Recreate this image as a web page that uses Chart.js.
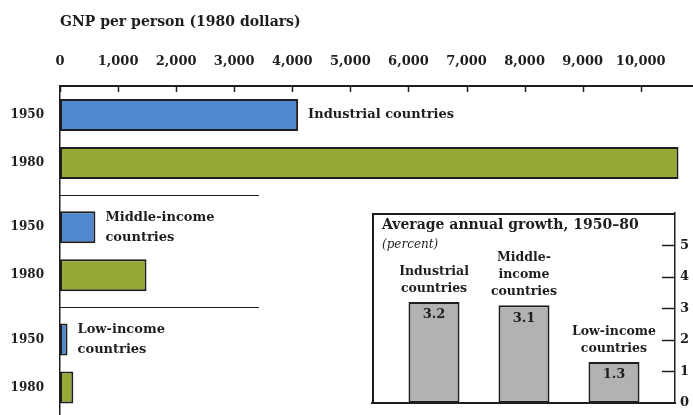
<!DOCTYPE html>
<html><head><meta charset="utf-8">
<script src="https://cdn.jsdelivr.net/npm/chart.js@4/dist/chart.umd.min.js"></script>
<style>
html,body{margin:0;padding:0;background:#fff;}
#wrap{position:relative;width:693px;height:415px;overflow:hidden;background:#fff;}
#main{position:absolute;left:0;top:0;}
#inset{position:absolute;left:371px;top:212px;}
</style></head><body>
<div id="wrap">
<canvas id="main" width="693" height="415"></canvas>
<canvas id="inset" width="322" height="203"></canvas>
</div>
<script>
// ---- data ----
const groups = ['Industrial countries', 'Middle-income countries', 'Low-income countries'];
const groupLabelLines = [['Industrial countries'], ['Middle-income', 'countries'], ['Low-income', 'countries']];
const years = ['1950', '1980'];
const gnp1950 = [4100, 610, 130];
const gnp1980 = [10650, 1490, 230];
const gnpTicks = [0, 1000, 2000, 3000, 4000, 5000, 6000, 7000, 8000, 9000, 10000];
const gnpTitle = 'GNP per person (1980 dollars)';

const growthLabels = [['Industrial', 'countries'], ['Middle-', 'income', 'countries'], ['Low-income', 'countries']];
const growthValues = [3.2, 3.1, 1.3];
const growthTicks = [0, 1, 2, 3, 4, 5];
const growthTitle = 'Average annual growth, 1950\u201380';
const growthUnit = '(percent)';

// ---- styles ----
const SERIF = "'DejaVu Serif', serif";
const INK = '#1e1e1e';
const BLUE = '#4f88cf';
const GREEN = '#97a935';
const GRAY = '#b2b2b2';

function noPad(s) { s.paddingTop = 0; s.paddingBottom = 0; s.paddingLeft = 0; s.paddingRight = 0; }

const mainDecor = {
  id: 'mainDecor',
  afterDatasetsDraw(chart) {
    const ctx = chart.ctx, ca = chart.chartArea;
    const xs = chart.scales.x, ys = chart.scales.y;
    ctx.save();
    ctx.strokeStyle = INK;
    ctx.lineWidth = 1.5;
    // tick marks pointing down from top axis
    xs.ticks.forEach(t => {
      const px = Math.round(xs.getPixelForValue(t.value)) + 0.5;
      ctx.beginPath(); ctx.moveTo(px, ca.top); ctx.lineTo(px, ca.top + 6); ctx.stroke();
    });
    // separators between groups
    ctx.lineWidth = 1;
    for (let i = 0; i < groups.length - 1; i++) {
      const py = Math.round(ys.getPixelForValue(i + 0.5)) + 0.5;
      ctx.beginPath(); ctx.moveTo(ca.left, py); ctx.lineTo(ca.left + 199, py); ctx.stroke();
    }
    // group labels beside 1950 bars
    const meta = chart.getDatasetMeta(0);
    ctx.fillStyle = INK;
    ctx.font = "bold 13px " + SERIF;
    ctx.textAlign = 'left'; ctx.textBaseline = 'middle';
    meta.data.forEach((el, i) => {
      const lines = groupLabelLines[i];
      const lh = 20;
      const y0 = el.y - (lines.length - 1) * lh / 2;
      lines.forEach((l, k) => ctx.fillText(l, el.x + 10, y0 + k * lh));
    });
    ctx.restore();
  }
};

new Chart(document.getElementById('main'), {
  type: 'bar',
  data: {
    datasets: [
      { label: years[0], data: gnp1950.map((v, i) => ({ x: v, y: i })), backgroundColor: BLUE, borderColor: INK, borderWidth: 2, borderSkipped: false },
      { label: years[1], data: gnp1980.map((v, i) => ({ x: v, y: i })), backgroundColor: GREEN, borderColor: INK, borderWidth: 2, borderSkipped: false }
    ]
  },
  options: {
    indexAxis: 'y',
    responsive: false,
    animation: false,
    devicePixelRatio: 1,
    categoryPercentage: 0.853,
    barPercentage: 0.667,
    layout: { padding: 0 },
    plugins: { legend: { display: false }, tooltip: { enabled: false } },
    scales: {
      x: {
        type: 'linear', position: 'top', min: 0, max: 10900, offset: false,
        afterBuildTicks: s => { s.ticks = gnpTicks.map(v => ({ value: v })); },
        afterFit: s => { s.height = 86; noPad(s); },
        grid: { display: false, drawTicks: false },
        border: { display: true, width: 2, color: INK },
        ticks: { padding: 17, color: INK, maxRotation: 0, autoSkip: false,
          font: { family: SERIF, size: 13, weight: 'bold' },
          callback: v => v.toLocaleString('en-US') },
        title: { display: true, text: gnpTitle, align: 'start', color: INK,
          padding: { top: 14, bottom: 0 },
          font: { family: SERIF, size: 14, weight: 'bold' } }
      },
      y: {
        type: 'linear', reverse: true, min: -0.472, max: 2.459, offset: false,
        afterBuildTicks: s => { s.ticks = groups.map((g, i) => ({ value: i })); },
        afterFit: s => { s.width = 60; noPad(s); },
        grid: { display: false, drawTicks: false },
        border: { display: true, width: 1.5, color: INK },
        ticks: { padding: 16, color: INK, autoSkip: false,
          font: { family: SERIF, size: 12, weight: 'bold', lineHeight: '48px' },
          callback: () => years }
      }
    }
  },
  plugins: [mainDecor]
});

const insetDecor = {
  id: 'insetDecor',
  afterDatasetsDraw(chart) {
    const ctx = chart.ctx, ca = chart.chartArea;
    const ys = chart.scales.y;
    ctx.save();
    ctx.strokeStyle = INK;
    // left and top frame
    ctx.lineWidth = 2;
    ctx.beginPath();
    ctx.moveTo(ca.left + 1, ca.bottom); ctx.lineTo(ca.left + 1, ca.top + 1); ctx.lineTo(ca.right, ca.top + 1);
    ctx.stroke();
    // inward ticks on right axis
    ctx.lineWidth = 1.5;
    ys.ticks.forEach(t => {
      if (t.value === 0) return;
      const py = Math.round(ys.getPixelForValue(t.value)) + 0.5;
      ctx.beginPath(); ctx.moveTo(ca.right - 13, py); ctx.lineTo(ca.right, py); ctx.stroke();
    });
    // titles
    ctx.fillStyle = INK;
    ctx.textAlign = 'left'; ctx.textBaseline = 'middle';
    ctx.font = "bold 14px " + SERIF;
    ctx.fillText(growthTitle, ca.left + 10, ca.top + 12);
    ctx.font = "italic 12px " + SERIF;
    ctx.fillText(growthUnit, ca.left + 10, ca.top + 32);
    // category labels above bars and values inside
    const meta = chart.getDatasetMeta(0);
    ctx.textAlign = 'center';
    meta.data.forEach((el, i) => {
      const lines = growthLabels[i];
      const lh = 17;
      ctx.font = "bold 12.5px " + SERIF;
      lines.forEach((l, k) => ctx.fillText(l, el.x, el.y - 13 - (lines.length - 1 - k) * lh));
      ctx.font = "bold 13px " + SERIF;
      ctx.fillText(growthValues[i].toFixed(1), el.x, el.y + 13);
    });
    ctx.restore();
  }
};

new Chart(document.getElementById('inset'), {
  type: 'bar',
  data: {
    datasets: [
      { data: growthValues.map((v, i) => ({ x: i, y: v })), backgroundColor: GRAY, borderColor: INK, borderWidth: 2, borderSkipped: false }
    ]
  },
  options: {
    responsive: false,
    animation: false,
    devicePixelRatio: 1,
    categoryPercentage: 1,
    barPercentage: 0.567,
    layout: { padding: { left: 1, top: 1, right: 0, bottom: 12 } },
    plugins: { legend: { display: false }, tooltip: { enabled: false } },
    scales: {
      x: {
        type: 'linear', min: -0.689, max: 2.678, offset: false,
        afterBuildTicks: s => { s.ticks = growthValues.map((v, i) => ({ value: i })); },
        afterFit: s => { s.height = 0; noPad(s); },
        grid: { display: false, drawTicks: false },
        ticks: { display: false },
        border: { display: true, width: 2, color: INK }
      },
      y: {
        position: 'right', min: 0, max: 6.02,
        afterBuildTicks: s => { s.ticks = growthTicks.map(v => ({ value: v })); },
        afterFit: s => { s.width = 18; noPad(s); },
        grid: { display: false, drawTicks: false },
        border: { display: true, width: 1.5, color: INK },
        ticks: { padding: 5, color: INK, font: { family: SERIF, size: 13, weight: 'bold' } }
      }
    }
  },
  plugins: [insetDecor]
});
</script>
</body></html>
